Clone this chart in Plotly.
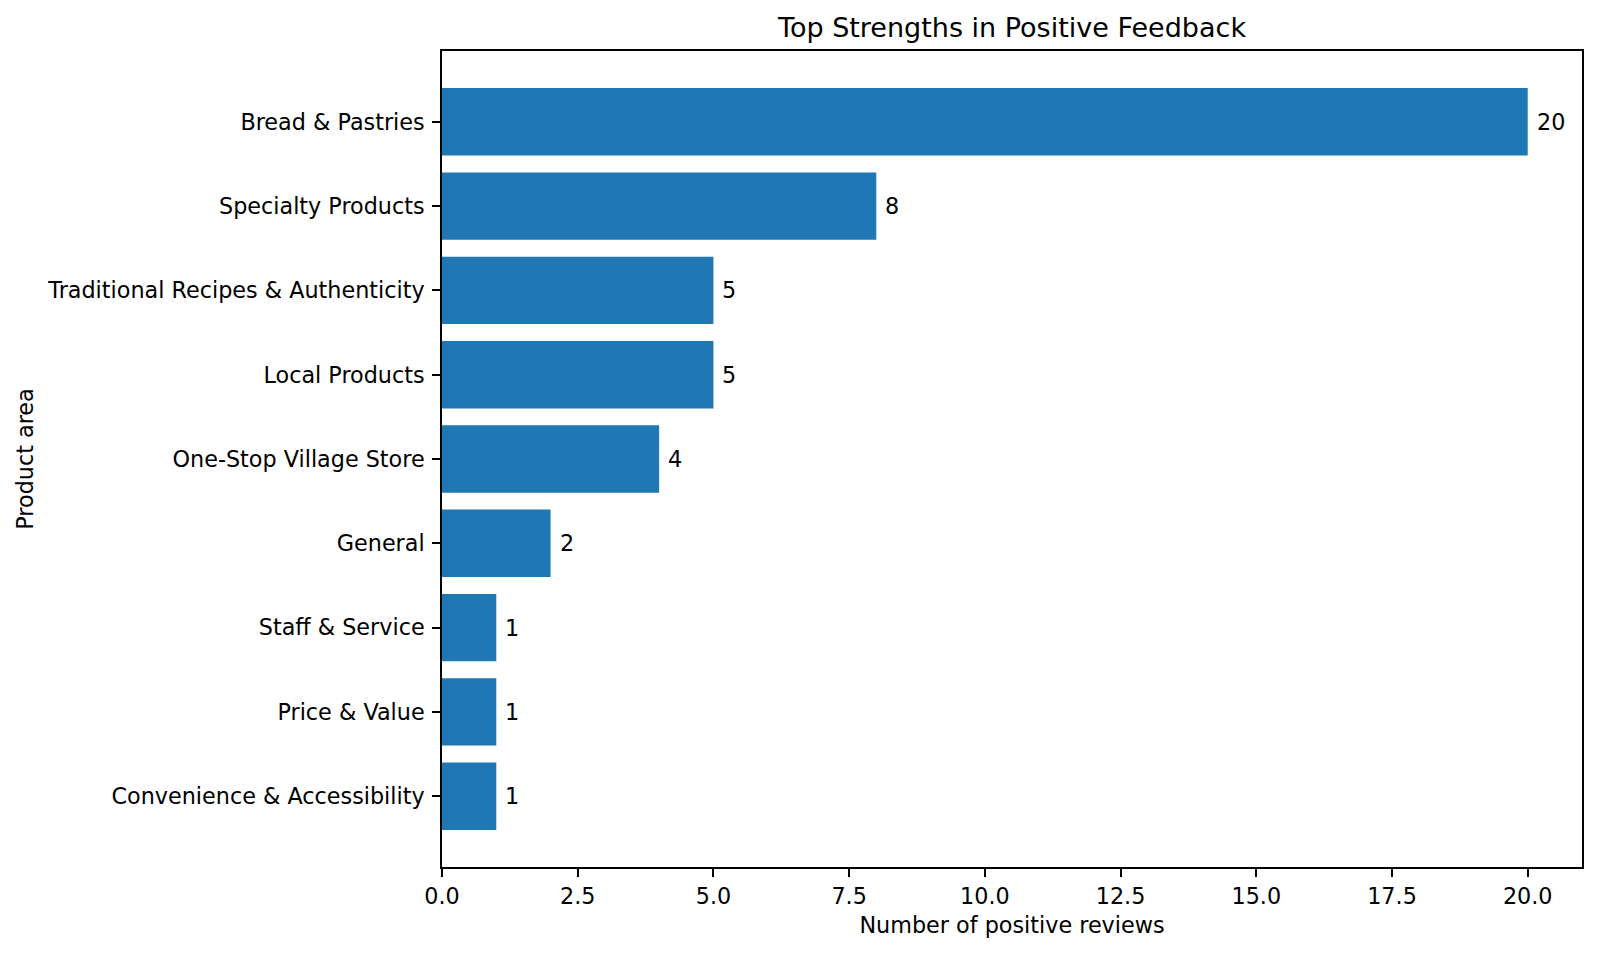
import plotly.graph_objects as go

# product areas, listed bottom -> top as drawn
areas = [
    "Convenience & Accessibility",
    "Price & Value",
    "Staff & Service",
    "General",
    "One-Stop Village Store",
    "Local Products",
    "Traditional Recipes & Authenticity",
    "Specialty Products",
    "Bread & Pastries",
]
counts = [1, 1, 1, 2, 4, 5, 5, 8, 20]

x_ticks = [0, 2.5, 5, 7.5, 10, 12.5, 15, 17.5, 20]
x_tick_labels = ["0.0", "2.5", "5.0", "7.5", "10.0", "12.5", "15.0", "17.5", "20.0"]

font = "DejaVu Sans"
fs = 22.3

fig = go.Figure()
fig.add_trace(go.Bar(
    x=counts,
    y=areas,
    orientation="h",
    width=0.8,
    marker=dict(color="#1f77b4", line=dict(width=0)),
    hoverinfo="x+y",
))

# value labels at bar ends
for a, c in zip(areas, counts):
    fig.add_annotation(
        x=c, y=a, text=str(c), showarrow=False,
        xanchor="left", yanchor="middle", xshift=7,
        font=dict(family=font, size=fs, color="black"),
    )

# page body has an 8px margin, so the figure is a bit smaller and margins shifted
fig.update_layout(
    width=1584, height=938,
    margin=dict(l=434, r=8, t=43, b=79),
    paper_bgcolor="white", plot_bgcolor="white",
    showlegend=False,
    font=dict(family=font, size=fs, color="black"),
    title=dict(
        text="Top Strengths in Positive Feedback",
        x=0.5, xref="paper", xanchor="center",
        y=1, yref="paper", yanchor="bottom", pad=dict(b=14),
        font=dict(family=font, size=27, color="black"),
    ),
    xaxis=dict(
        range=[0, 21],
        tickvals=x_ticks, ticktext=x_tick_labels,
        ticks="outside", ticklen=8, tickwidth=1.8, tickcolor="black",
        showline=True, linecolor="black", linewidth=1.8, mirror=True,
        showgrid=False, zeroline=False,
        tickfont=dict(family=font, size=fs),
        title=dict(text="Number of positive reviews", standoff=10,
                   font=dict(family=font, size=fs)),
    ),
    yaxis=dict(
        type="category",
        categoryorder="array", categoryarray=areas,
        range=[-0.84, 8.84],
        ticks="outside", ticklen=8, tickwidth=1.8, tickcolor="black",
        showline=True, linecolor="black", linewidth=1.8, mirror=True,
        showgrid=False, zeroline=False,
        ticklabelstandoff=3,
        tickfont=dict(family=font, size=fs),
        title=dict(text="Product area", standoff=8,
                   font=dict(family=font, size=fs)),
    ),
)

fig.write_html("out.html")
